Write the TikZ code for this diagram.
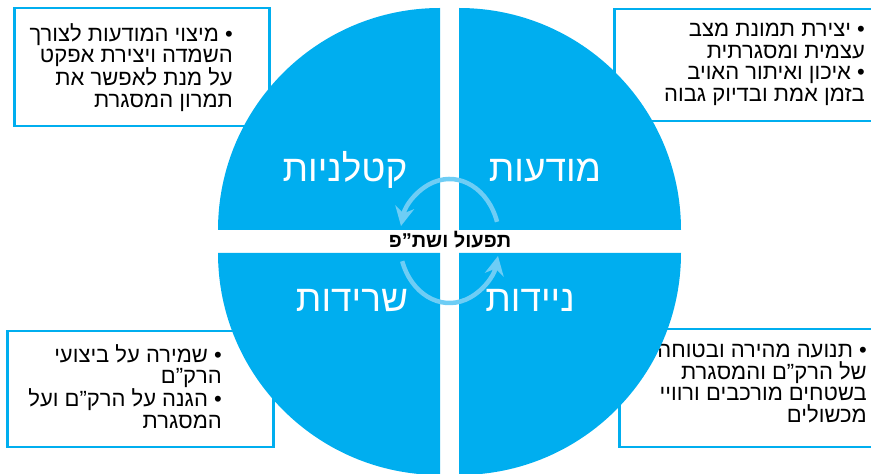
\documentclass[tikz,border=0pt]{standalone}
\usepackage{fontspec}
\usetikzlibrary{positioning,arrows.meta,calc}
\TeXXeTstate=1
\newfontfamily\hebfont[Script=Hebrew]{Liberation Sans}
\definecolor{quadblue}{RGB}{0,174,239}
\definecolor{cycleblue}{RGB}{110,205,245}

\tikzset{
  quad/.style={fill=quadblue, draw=none},
  infobox/.style={draw=quadblue, line width=2.5pt, fill=white, inner sep=0pt, anchor=north west},
  bullettext/.style={font=\hebfont\fontsize{22}{21.7}\selectfont, align=right, inner sep=0pt, anchor=north east},
  quadlabel/.style={font=\hebfont\fontsize{37}{39}\selectfont, text=white, inner sep=0pt, anchor=base},
  cyclearc/.style={draw=cycleblue, line width=4.5pt, -{Stealth[length=19pt,width=19pt]}},
}

\begin{document}
\begin{tikzpicture}[x=1pt,y=1pt]
  \useasboundingbox (0,0) rectangle (871,474);

  % four boxes round the circle
  \node[infobox, minimum width=255pt, minimum height=118pt] (tlbox) at (13,467) {};
  \node[infobox, minimum width=270pt, minimum height=112pt] (trbox) at (613,466) {};
  \node[infobox, minimum width=266pt, minimum height=116pt] (blbox) at (6,144) {};
  \node[infobox, minimum width=262pt, minimum height=118pt] (brbox) at (618,146) {};

  \node[bullettext] (tltext) at (233,451)
    {\beginR • מיצוי המודעות לצורך\endR\\
     \beginR השמדה ויצירת אפקט\endR\\
     \beginR על מנת לאפשר את\endR\\
     \beginR תמרון המסגרת\endR};
  \node[bullettext] (trtext) at (865,451)
    {\beginR • יצירת תמונת מצב\endR\\
     \beginR עצמית ומסגרתית\endR\\
     \beginR • איכון ואיתור האויב\endR\\
     \beginR בזמן אמת ובדיוק גבוה\endR};
  \node[bullettext] (bltext) at (222,130)
    {\beginR • שמירה על ביצועי\endR\\
     \beginR הרק”ם\endR\\
     \beginR • הגנה על הרק”ם ועל\endR\\
     \beginR המסגרת\endR};
  \node[bullettext] (brtext) at (867,130)
    {\beginR • תנועה מהירה ובטוחה\endR\\
     \beginR של הרק”ם והמסגרת\endR\\
     \beginR בשטחים מורכבים ורוויי\endR\\
     \beginR מכשולים\endR};

  % the four quarters
  \fill[quad] (440,244) -- ++(-222,0) arc (180:90:222) -- cycle;
  \fill[quad] (459,244) -- ++(0,222) arc (90:0:222) -- cycle;
  \fill[quad] (440,221) -- ++(-222,0) arc (180:270:222) -- cycle;
  \fill[quad] (459,221) -- ++(222,0) arc (0:-90:222) -- cycle;

  \node[quadlabel] (lethality) at (345,292) {\beginR קטלניות\endR};
  \node[quadlabel] (awareness) at (545,292) {\beginR מודעות\endR};
  \node[quadlabel] (survival)  at (352,162) {\beginR שרידות\endR};
  \node[quadlabel] (mobility)  at (530,162) {\beginR ניידות\endR};

  % cycle arrows
  \coordinate (hub) at (449.5,233);
  \draw[cyclearc] ($(hub)+(18:50 and 62)$) arc[start angle=18, end angle=166, x radius=50, y radius=62];
  \draw[cyclearc] ($(hub)+(199:50 and 62)$) arc[start angle=199, end angle=346, x radius=50, y radius=62];

  \node[font=\hebfont\bfseries\fontsize{20}{22}\selectfont, inner sep=0pt, anchor=base] (core) at (450,226)
    {\beginR תפעול ושת”פ\endR};
\end{tikzpicture}
\end{document}
